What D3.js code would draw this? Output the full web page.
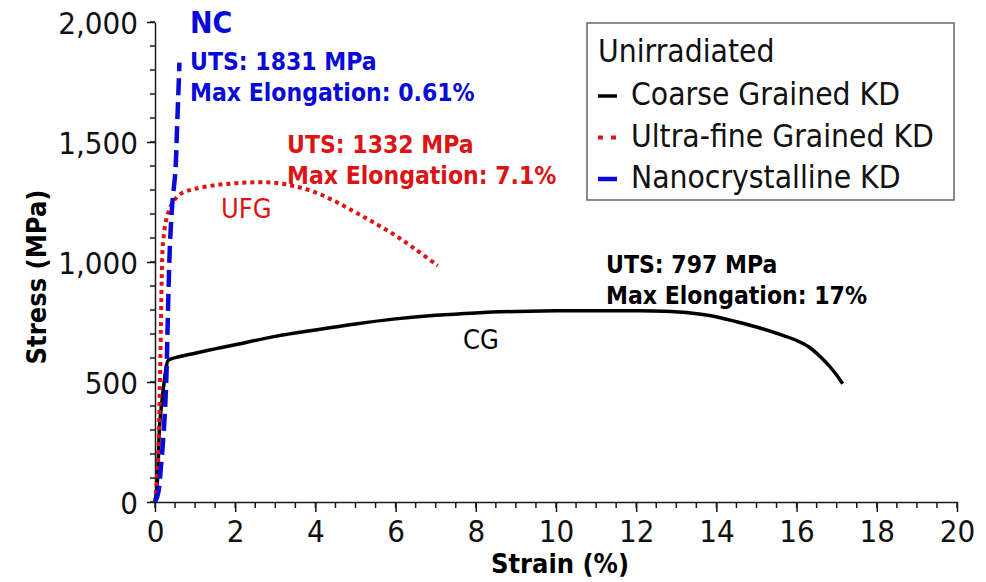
<!DOCTYPE html>
<html>
<head>
<meta charset="utf-8">
<script src="https://cdn.jsdelivr.net/npm/d3@7"></script>
<style>
  html, body { margin: 0; padding: 0; background: #fff; }
  svg { display: block; }
  text { font-family: "DejaVu Sans Condensed", "DejaVu Sans", sans-serif; }
</style>
</head>
<body>
<svg id="chart" width="986" height="582"></svg>
<script>
// Engineering stress-strain curves, unirradiated KD specimens
const coarseGrained = [
  [0, 0], [0.05, 60], [0.12, 330], [0.2, 460], [0.28, 560], [0.33, 590], [0.6, 605],
  [1, 620], [1.5, 638], [2, 655], [3, 690], [4, 717], [5, 742], [6, 763],
  [7, 778], [8, 788], [9, 794], [10, 797], [11, 797], [12, 797], [12.7, 795],
  [13.3, 789], [13.9, 775], [14.5, 751], [15, 729], [15.5, 703], [16, 673],
  [16.3, 647], [16.6, 604], [16.9, 550], [17.15, 493]
];
const ultraFineGrained = [
  [0, 0], [0.07, 150], [0.12, 480], [0.15, 750], [0.17, 950], [0.2, 1080],
  [0.3, 1190], [0.45, 1250], [0.65, 1285], [1, 1305], [1.5, 1320], [2, 1328],
  [2.5, 1332], [3, 1330], [3.5, 1315], [4, 1290], [4.5, 1252], [5, 1207],
  [5.5, 1160], [6, 1110], [6.5, 1052], [7.05, 985]
];
const nanocrystalline = [
  [0, 0], [0.07, 30], [0.15, 150], [0.22, 300], [0.28, 500], [0.31, 700],
  [0.34, 900], [0.38, 1100], [0.44, 1260], [0.5, 1360], [0.55, 1560], [0.61, 1831]
];

const seriesNames = ["Coarse Grained KD", "Ultra-fine Grained KD", "Nanocrystalline KD"];
const legendTitle = "Unirradiated";
const xTicks = [0, 2, 4, 6, 8, 10, 12, 14, 16, 18, 20];
const yTicks = [0, 500, 1000, 1500, 2000];
const xTitle = "Strain (%)";
const yTitle = "Stress (MPa)";

const notes = [
  { key: "nc", lines: ["UTS: 1831 MPa", "Max Elongation: 0.61%"] },
  { key: "ufg", lines: ["UTS: 1332 MPa", "Max Elongation: 7.1%"] },
  { key: "cg", lines: ["UTS: 797 MPa", "Max Elongation: 17%"] }
];
const curveTags = { nc: "NC", ufg: "UFG", cg: "CG" };

const BLUE = "#0a0ad8";
const RED = "#dc1414";
const BLACK = "#000";
const AXIS = "#1a1a1a";

const svg = d3.select("#chart");
const m = { left: 155, top: 22, right: 29, bottom: 80 };
const W = 986 - m.left - m.right;
const H = 582 - m.top - m.bottom;

const x = d3.scaleLinear().domain([0, 20]).range([0, W]);
const y = d3.scaleLinear().domain([0, 2000]).range([H, 0]);

const g = svg.append("g").attr("transform", `translate(${m.left},${m.top})`);

// minor ticks (every 100 MPa and every 0.5 % strain)
const yMinor = d3.range(0, 2001, 100);
const xMinor = d3.range(0, 20.01, 0.5);
g.append("g").attr("class", "minor-y").selectAll("line").data(yMinor).join("line")
  .attr("x1", -5).attr("x2", 0)
  .attr("y1", d => y(d)).attr("y2", d => y(d))
  .attr("stroke", AXIS).attr("stroke-width", 1.5);
g.append("g").attr("class", "minor-x").selectAll("line").data(xMinor).join("line")
  .attr("x1", d => x(d)).attr("x2", d => x(d))
  .attr("y1", H).attr("y2", H + 6)
  .attr("stroke", AXIS).attr("stroke-width", 1.5);

// major axes
const yAxis = g.append("g")
  .call(d3.axisLeft(y).tickValues(yTicks).tickSize(8).tickSizeOuter(0).tickPadding(9).tickFormat(d3.format(",")));
const xAxis = g.append("g").attr("transform", `translate(0,${H})`)
  .call(d3.axisBottom(x).tickValues(xTicks).tickSize(10).tickSizeOuter(0).tickPadding(8));

yAxis.selectAll(".tick line").attr("stroke", AXIS).attr("stroke-width", 1.5);
xAxis.selectAll(".tick line").attr("stroke", AXIS).attr("stroke-width", 1.5);
yAxis.select(".domain").attr("stroke", AXIS).attr("stroke-width", 1.5);
xAxis.select(".domain").attr("stroke", AXIS).attr("stroke-width", 1.5);
yAxis.selectAll("text").attr("font-size", 31).attr("fill", "#111").attr("dy", "0.36em");
xAxis.selectAll("text").attr("font-size", 31).attr("fill", "#111").attr("dy", "0.72em");

// axis titles
svg.append("text")
  .attr("transform", `translate(46,${m.top + H / 2 + 15}) rotate(-90)`)
  .attr("text-anchor", "middle")
  .attr("font-size", 27).attr("font-weight", "bold")
  .text(yTitle);
svg.append("text")
  .attr("x", 560).attr("y", 573)
  .attr("text-anchor", "middle")
  .attr("font-size", 27).attr("font-weight", "bold")
  .text(xTitle);

// curves
g.append("path").datum(coarseGrained)
  .attr("d", d3.line().x(d => x(d[0])).y(d => y(d[1])).curve(d3.curveCatmullRom))
  .attr("fill", "none").attr("stroke", BLACK).attr("stroke-width", 3.5);
g.append("path").datum(ultraFineGrained)
  .attr("d", d3.line().x(d => x(d[0])).y(d => y(d[1])).curve(d3.curveCatmullRom))
  .attr("fill", "none").attr("stroke", RED).attr("stroke-width", 4)
  .attr("stroke-dasharray", "4 4");
g.append("path").datum(nanocrystalline)
  .attr("d", d3.line().x(d => x(d[0])).y(d => y(d[1])).curve(d3.curveMonotoneY))
  .attr("fill", "none").attr("stroke", BLUE).attr("stroke-width", 4.5)
  .attr("stroke-dasharray", "17 7");

// annotations
function noteBlock(lines, px, py, color) {
  const t = svg.append("text").attr("font-size", 24.5).attr("font-weight", "bold").attr("fill", color);
  lines.forEach((s, i) => t.append("tspan").attr("x", px).attr("y", py + i * 31).text(s));
}

svg.append("text").attr("x", 190).attr("y", 33)
  .attr("font-size", 30).attr("font-weight", "bold").attr("fill", BLUE).text(curveTags.nc);
noteBlock(notes[0].lines, 190, 70, BLUE);
noteBlock(notes[1].lines, 287, 153, RED);
noteBlock(notes[2].lines, 606, 273, BLACK);
svg.append("text").attr("x", 221).attr("y", 218)
  .attr("font-size", 27).attr("fill", RED).text(curveTags.ufg);
svg.append("text").attr("x", 463).attr("y", 349)
  .attr("font-size", 27).attr("fill", BLACK).text(curveTags.cg);

// legend
const lg = svg.append("g");
lg.append("rect").attr("x", 587).attr("y", 23).attr("width", 367).attr("height", 177)
  .attr("fill", "#fff").attr("stroke", "#666").attr("stroke-width", 1.5);
lg.append("text").attr("x", 598).attr("y", 62).attr("font-size", 31.5).attr("fill", "#111").text(legendTitle);
const legendStyles = [
  { color: BLACK, dash: null, w: 3.5 },
  { color: RED, dash: "5 8", w: 4 },
  { color: BLUE, dash: null, w: 4.5 }
];
seriesNames.forEach((name, i) => {
  const by = 105 + i * 41.5;
  const st = legendStyles[i];
  const l = lg.append("line").attr("x1", 598).attr("x2", 617).attr("y1", by - 9).attr("y2", by - 9)
    .attr("stroke", st.color).attr("stroke-width", st.w);
  if (st.dash) l.attr("stroke-dasharray", st.dash);
  lg.append("text").attr("x", 631).attr("y", by).attr("font-size", 31.5).attr("fill", "#111").text(name);
});
</script>
</body>
</html>
